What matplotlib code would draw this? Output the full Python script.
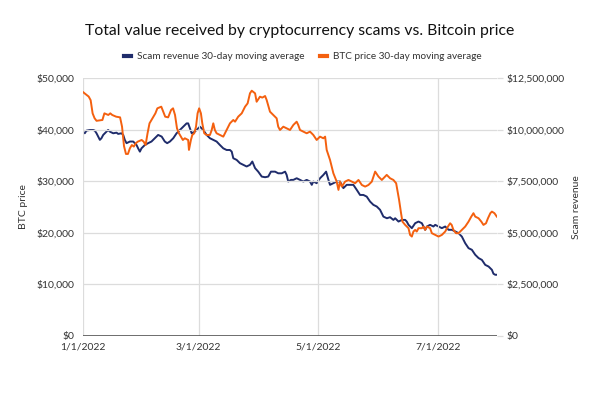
import pandas as pd
import matplotlib
matplotlib.use("Agg")
import matplotlib.pyplot as plt
import matplotlib.dates as mdates
from matplotlib.ticker import FuncFormatter, StrMethodFormatter

plt.rcParams['font.family'] = ['Lato', 'DejaVu Sans']

START = pd.Timestamp("2022-01-01")

# BTC price 30-day moving average (days after 1/1/2022, USD)
btc_day = [0, 1, 3, 4, 5, 6, 7, 10, 11, 13, 14, 15, 17, 19, 20, 21, 22, 23, 24, 25,
           26, 27, 28, 30, 31, 32, 33, 34, 35, 37, 38, 40, 41, 42, 43.5, 45, 46, 47, 48, 49,
           50, 51, 52, 53.7, 54.1, 55.1, 55.8, 56.8, 57.7, 58.5, 59.3, 60.2, 60.9, 61.9, 63.1, 64.8,
           65.7, 66.5, 67.3, 68.2, 69.9, 71.6, 73.3, 75, 76.7, 77.6, 79.2, 81, 82.7, 84,
           85.2, 86.1, 87.8, 88.6, 90.3, 91.5, 92.9, 93.7, 95.4, 97.1, 98.8, 99.6, 100.5, 102.2,
           103.9, 105.6, 107.3, 109, 109.8, 110.7, 112.4, 114.1, 115.8, 117.5, 119.2, 120.9, 122.6, 123.5,
           124.3, 126, 127.7, 129.4, 130.3, 131.1, 132, 133.7, 135.4, 137.1, 138.8, 140.5, 142.2, 143.9,
           145.6, 147.3, 149, 150.7, 152.4, 154.1, 154.9, 156.6, 158.3, 159.7, 161.2, 162.2, 162.9, 164.3,
           166, 166.8, 167.7, 168.5, 169.4, 170.2, 171.1, 172.8, 173.6, 174.5, 175.4, 177, 177.9, 179.6,
           181.3, 183, 184.7, 186.1, 187.2, 188, 188.9, 190.2, 191.5, 193.2, 194.9, 196.6, 198, 199.1,
           200, 201.7, 203.1, 204.2, 205.5, 206.5, 207.7, 208.5, 209.8, 211]
btc_price = [47300, 47000, 46400, 45700, 43150, 42200, 41700, 41860, 43150, 42830, 43150, 42830, 42500, 42370, 40560, 36800, 35270, 35270, 36370, 37000,
             36700, 37340, 37660, 37980, 37660, 37000, 39280, 41210, 41860, 43150, 44120, 44440, 43470, 42500, 42370, 43800, 44120, 42830, 40240, 39280,
             38630, 37980, 38310, 37980, 36050, 37980, 38950, 39280, 40560, 43150, 44120, 43150, 41210, 39280, 38950, 38950,
             39920, 41210, 39920, 39280, 38950, 38630, 39920, 41210, 41860, 41530, 42500, 43150, 44440, 45080,
             47030, 47540, 47030, 45400, 46380, 46200, 46510, 45740, 43470, 42830, 42180, 40560, 39920, 40560,
             40240, 39920, 40890, 41530, 40890, 39920, 39600, 39280, 39600, 38950, 37980, 38630, 38310, 38630,
             36050, 34110, 31530, 29910, 28300, 29910, 28940, 29910, 30230, 29910, 29590, 30230, 29260, 28940,
             29260, 29910, 31850, 30880, 30230, 30880, 31210, 30560, 30230, 29590, 26360, 23780, 22150, 21510,
             20870, 19570, 19250, 20220, 20540, 20220, 20870, 20870, 21190, 20540, 21190, 20870, 19900, 19570,
             19250, 19570, 20220, 21190, 21830, 21510, 20540, 19900, 19900, 20540, 21190, 22150, 23120, 23780,
             23120, 22800, 22150, 21510, 21830, 22800, 23780, 24090, 23780, 23120]

# Scam revenue 30-day moving average (days after 1/1/2022, millions USD)
scam_day = [0, 1, 1.9, 3.6, 5.3, 6.1, 7, 8.7, 9.5, 10.4, 12.1, 12.9, 13.8, 15.5, 17.2, 18, 19.7, 20.6, 21.4, 22.3,
            24, 25.7, 27.4, 28.2, 29.1, 29.9, 31.6, 33.3, 35, 36.7, 38.4, 40.2, 41.8, 43, 44.4, 46.1, 47.8, 49.5, 51.2, 52.9,
            53.7, 54.6, 55.5, 57.1, 58.8, 59.7, 61.4, 63.1, 64.8, 66.5, 68.2, 69.9, 71.6, 73.3, 75, 75.9, 76.7, 78.4, 80.1, 81.8,
            83.5, 85.2, 86.4, 87.8, 89.4, 91.2, 92.9, 94.5, 95.9, 98, 99.6, 101.4, 103.1, 103.9, 104.7, 106.1, 107.3, 109, 110.7, 112.4,
            114.1, 115.8, 116.7, 117.5, 119.2, 120.9, 122.6, 124, 125.2, 126, 127.7, 129.4, 131.1, 132.8, 134.5, 136.2, 137.9, 139.6, 141.3, 143,
            144.7, 146.4, 148.1, 149.8, 151.5, 153.2, 155, 156.6, 158.3, 159.2, 160.9, 162.6, 164.3, 165.1, 166, 167.7, 169.4, 171.1, 172.8, 174.5,
            175.4, 177, 178.7, 179.6, 181.3, 183, 184.7, 186.4, 188.1, 189.8, 191.5, 193.2, 194.9, 196.6, 198.3, 200, 201.7, 203.4, 205.1, 206.8,
            208.5, 209.3, 210.2, 211]
scam_revenue = [9.90, 9.82, 9.95, 9.98, 9.98, 9.95, 9.82, 9.50, 9.58, 9.74, 9.90, 9.98, 9.90, 9.82, 9.85, 9.79, 9.82, 9.74, 9.50, 9.34,
                9.42, 9.42, 9.25, 9.09, 8.93, 9.09, 9.25, 9.34, 9.42, 9.58, 9.74, 9.66, 9.42, 9.34, 9.42, 9.58, 9.82, 9.98, 10.14, 10.30,
                10.30, 10.06, 9.82, 9.90, 10.06, 10.14, 9.98, 9.74, 9.58, 9.50, 9.42, 9.25, 9.09, 9.01, 9.01, 8.93, 8.61, 8.53, 8.37, 8.29,
                8.21, 8.29, 8.45, 8.13, 7.96, 7.72, 7.69, 7.72, 7.96, 7.96, 7.88, 7.88, 7.96, 7.80, 7.48, 7.56, 7.56, 7.64, 7.56, 7.48,
                7.56, 7.48, 7.32, 7.48, 7.40, 7.64, 7.80, 7.96, 7.56, 7.32, 7.40, 7.48, 7.48, 7.16, 7.32, 7.32, 7.32, 7.08, 6.83, 6.83,
                6.75, 6.51, 6.35, 6.27, 6.11, 5.78, 5.70, 5.75, 5.62, 5.70, 5.54, 5.62, 5.62, 5.54, 5.38, 5.22, 5.46, 5.54, 5.46, 5.14,
                5.30, 5.38, 5.30, 5.38, 5.30, 5.22, 5.30, 5.14, 5.14, 5.06, 4.98, 4.81, 4.49, 4.25, 4.17, 3.93, 3.77, 3.68, 3.44, 3.36,
                3.20, 3.01, 2.96, 2.96]

tick_dates = ["2022-01-01", "2022-03-01", "2022-05-01", "2022-07-01"]

btc_dates = START + pd.to_timedelta(btc_day, unit="D")
scam_dates = START + pd.to_timedelta(scam_day, unit="D")
scam_usd = [v * 1e6 for v in scam_revenue]

orange = "#f4600f"
navy = "#1f2c6b"
grid_c = "#dcdcdc"
text_c = "#333333"

fig = plt.figure(figsize=(6, 3.96), dpi=100)
ax = fig.add_axes([0.138, 0.152, 0.69, 0.651])
ax2 = ax.twinx()

ax2.plot(scam_dates, scam_usd, color=navy, lw=1.4, label="Scam revenue 30-day moving average")
ax.plot(btc_dates, btc_price, color=orange, lw=1.4, label="BTC price 30-day moving average")
ax.set_zorder(ax2.get_zorder() + 1)
ax.patch.set_visible(False)

ax.set_xlim(START, pd.Timestamp("2022-07-31"))
ax.set_ylim(0, 50000)
ax2.set_ylim(0, 12500000)
ax.set_yticks(range(0, 50001, 10000))
ax2.set_yticks(range(0, 12500001, 2500000))
ax.yaxis.set_major_formatter(StrMethodFormatter("${x:,.0f}"))
ax2.yaxis.set_major_formatter(StrMethodFormatter("${x:,.0f}"))

ax.set_xticks(pd.to_datetime(tick_dates))
ax.xaxis.set_major_formatter(FuncFormatter(
    lambda v, pos: (lambda d: f"{d.month}/{d.day}/{d.year}")(mdates.num2date(v))))

ax.grid(True, color=grid_c, lw=0.9)
for a in (ax, ax2):
    for s in ("top", "right", "left", "bottom"):
        a.spines[s].set_visible(False)
ax.axhline(0, color="#555555", lw=1.2, zorder=3)

ax.tick_params(axis="y", length=0, pad=6, labelsize=7.5, labelcolor=text_c)
ax.tick_params(axis="x", length=0, pad=5, labelsize=7.5, labelcolor=text_c)
ax2.tick_params(axis="y", length=4, width=0.9, color=grid_c, pad=3, labelsize=7.5, labelcolor=text_c)

ax.set_ylabel("BTC price", fontsize=7.5, color=text_c, labelpad=6)
ax2.set_ylabel("Scam revenue", fontsize=7.5, color=text_c, labelpad=5)

fig.suptitle("Total value received by cryptocurrency scams vs. Bitcoin price",
             x=0.5, y=0.94, fontsize=11.3, color="#111111")

h1, l1 = ax2.get_legend_handles_labels()
h2, l2 = ax.get_legend_handles_labels()
leg = fig.legend(h1 + h2, l1 + l2, loc="center", bbox_to_anchor=(0.505, 0.857), ncol=2,
                 frameon=False, fontsize=7.2, handlelength=0.7, columnspacing=1.5, handletextpad=0.6)
for line in leg.get_lines():
    line.set_linewidth(3)
for t in leg.get_texts():
    t.set_color(text_c)

fig.savefig("out.png", dpi=100)
